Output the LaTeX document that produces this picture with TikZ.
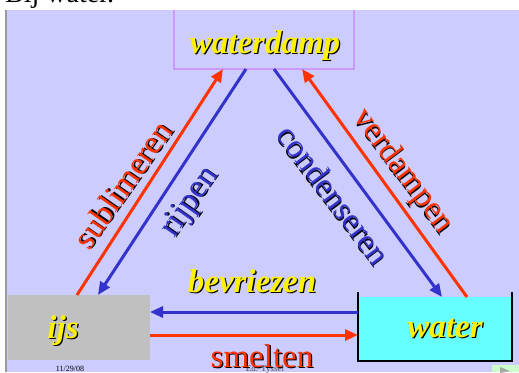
\documentclass[tikz,border=0pt]{standalone}
\usepackage{fontspec}
\setmainfont{Liberation Serif}
\usetikzlibrary{arrows.meta}

\definecolor{lavender}{HTML}{CCCCFF}
\definecolor{boxviolet}{HTML}{CC99FF}
\definecolor{hotred}{HTML}{FF3300}
\definecolor{deepblue}{HTML}{3333CC}
\definecolor{icegray}{HTML}{C0C0C0}
\definecolor{aqua}{HTML}{66FFFF}
\definecolor{navgreen}{HTML}{CCFFCC}

% text with a small black drop shadow
\newcommand{\shadowed}[2]{\makebox[0pt][l]{\kern1.3pt\raisebox{-1.3pt}{\textcolor{black}{#2}}}\textcolor{#1}{#2}}

\tikzset{
  phase/.style={draw=none, inner sep=0pt, outer sep=0pt},
  redarrow/.style={draw=hotred, line width=3pt, -{Triangle[length=13pt,width=11pt]}},
  bluearrow/.style={draw=deepblue, line width=3pt, -{Triangle[length=13pt,width=11pt]}},
  biglabel/.style={font=\fontsize{33}{33}\selectfont, inner sep=0pt},
  stateword/.style={font=\fontsize{33}{33}\selectfont\bfseries\itshape, inner sep=0pt},
}

\begin{document}
\begin{tikzpicture}[x=1pt,y=-1pt]
\useasboundingbox (0,0) rectangle (519,372);

% slide background
\fill[white] (0,0) rectangle (519,372);
\fill[lavender] (7,10) rectangle (519,372);
\fill[icegray!80!black] (5,10) rectangle (7,372);

% the three phases
\node[phase, draw=boxviolet, line width=1.2pt, fill=lavender,
      minimum width=180pt, minimum height=65pt] (damp) at (264,36.5) {};
\node[phase, fill=icegray, minimum width=142pt, minimum height=65pt] (ijsbox) at (79,327.5) {};
\node[phase, fill=aqua, minimum width=154pt, minimum height=64pt] (waterbox) at (435,329) {};
\draw[black, line width=1.6pt]
  ([yshift=5pt]waterbox.north west) -- (waterbox.south west)
  -- (waterbox.south east) -- ([yshift=5pt]waterbox.north east);

% white strip with the slide heading above
\fill[white] (0,0) rectangle (519,10);
\node[anchor=base west, font=\fontsize{28}{28}\selectfont, inner sep=0pt] (title) at (5,2) {Bij water.};

% phase names
\node[stateword, anchor=base] (dampname) at (265,53) {\shadowed{yellow}{waterdamp}};
\node[stateword, anchor=base] (ijs) at (63,338) {\shadowed{yellow}{ijs}};
\node[stateword, anchor=base] (water) at (445,337) {\shadowed{yellow}{water}};

% transitions
\draw[redarrow]  ([xshift=-2pt]ijsbox.north) -- ([xshift=-41pt]damp.south);
\draw[bluearrow] ([xshift=-18pt]damp.south) -- ([xshift=19pt]ijsbox.north);
\draw[bluearrow] ([xshift=10pt]damp.south) -- ([xshift=7pt]waterbox.north);
\draw[redarrow]  ([xshift=32pt]waterbox.north) -- ([xshift=38pt]damp.south);
\draw[bluearrow] ([yshift=17pt]waterbox.west) -- ([yshift=15.5pt]ijsbox.east);
\draw[redarrow]  ([yshift=-7.5pt]ijsbox.east) -- ([yshift=-6pt]waterbox.west);

% transition names
\node[biglabel, rotate=55] (sub) at (123,185) {\shadowed{hotred}{sublimeren}};
\node[biglabel, rotate=55] (rij) at (191,203) {\shadowed{deepblue}{rijpen}};
\node[biglabel, rotate=-53] (con) at (333.5,195) {\shadowed{deepblue}{condenseren}};
\node[biglabel, rotate=-53] (ver) at (402.5,171.5) {\shadowed{hotred}{verdampen}};
\node[stateword, anchor=base] (bev) at (252,292) {\shadowed{yellow}{bevriezen}};

% footer
\node[font=\fontsize{8}{8}\selectfont, anchor=base, inner sep=0pt] (date) at (70,371) {11/29/08};
\node[font=\fontsize{9}{9}\selectfont, anchor=base, inner sep=0pt, text=black!70] (author) at (265,371) {Ed. Tyssel};
\node[biglabel, anchor=base] (sme) at (262,367) {\shadowed{hotred}{smelten}};

% navigation button
\fill[navgreen] (492,365) rectangle (519,372);
\fill[gray!70] (500,367) -- (510,371) -- (500,373) -- cycle;
\end{tikzpicture}
\end{document}
